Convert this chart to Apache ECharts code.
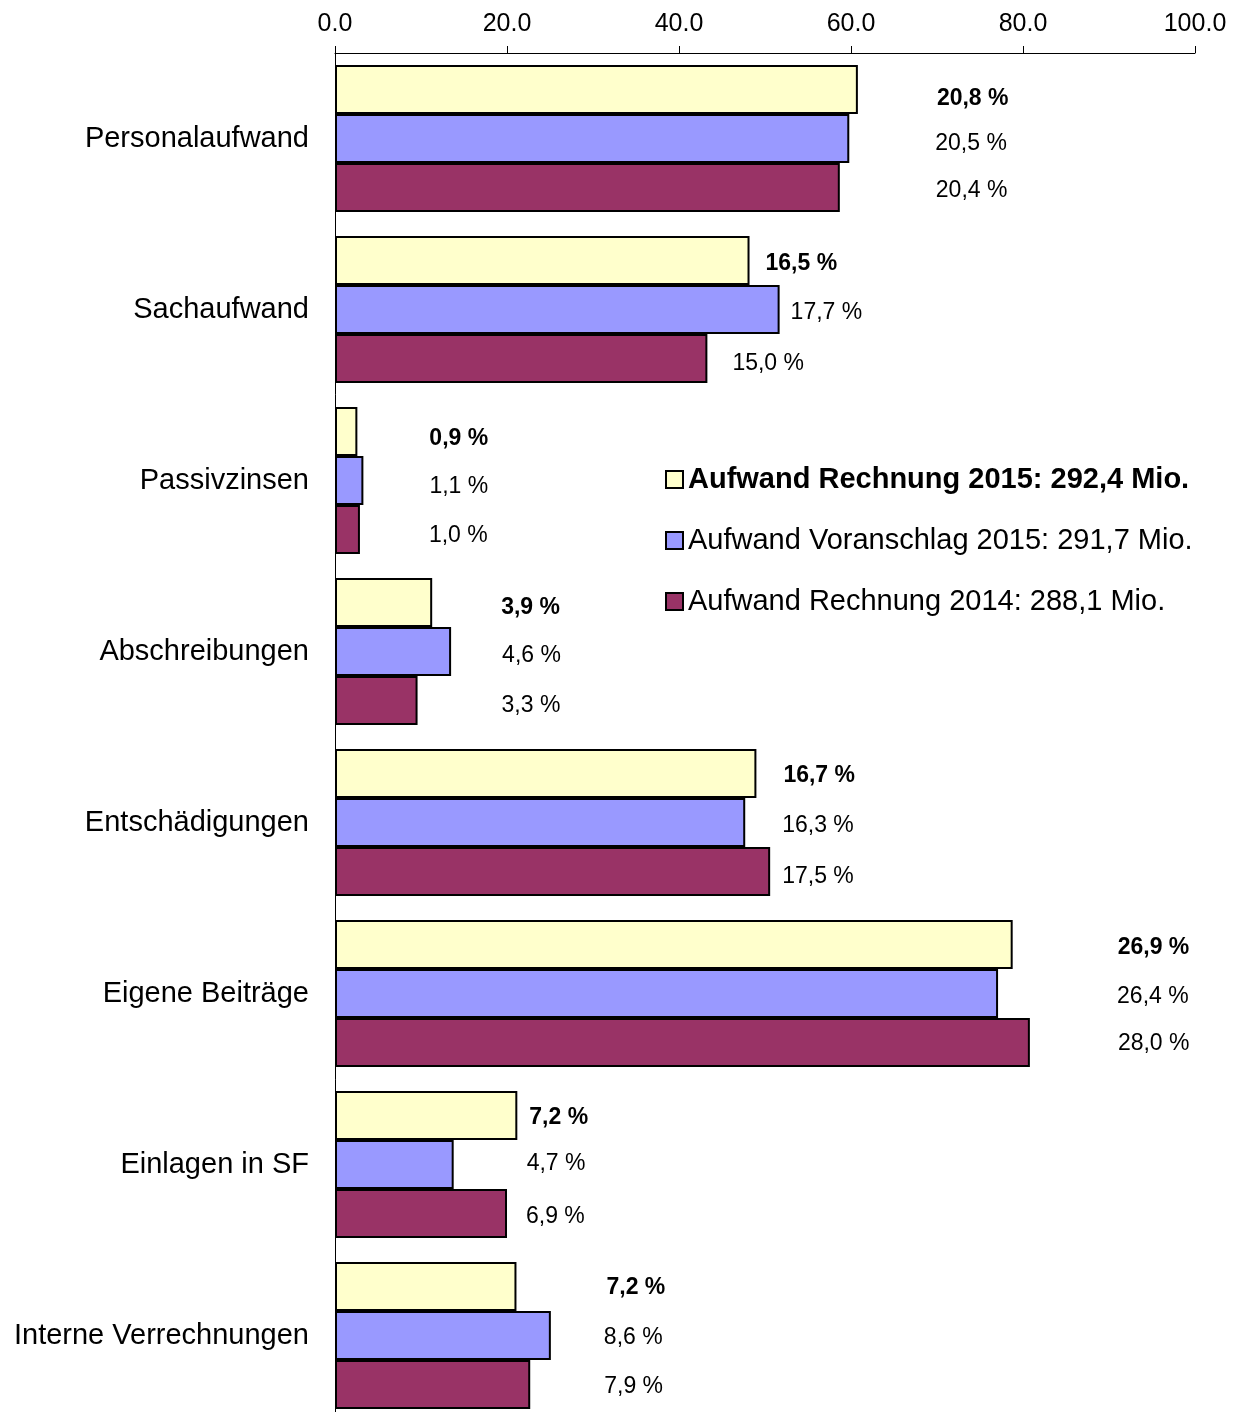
<!DOCTYPE html>
<html>
<head>
<meta charset="utf-8">
<script src="https://cdn.jsdelivr.net/npm/echarts@6/dist/echarts.min.js"></script>
<style>
  html, body { margin: 0; padding: 0; background: #fff; height: 1412px; overflow: hidden; }
  #main { width: 1244px; height: 1430px; }
</style>
</head>
<body>
<div id="main"></div>
<script>
var categories = ['Personalaufwand', 'Sachaufwand', 'Passivzinsen', 'Abschreibungen',
  'Entschädigungen', 'Eigene Beiträge', 'Einlagen in SF', 'Interne Verrechnungen'];

var seriesNames = ['Aufwand Rechnung 2015: 292,4 Mio.',
  'Aufwand Voranschlag 2015: 291,7 Mio.',
  'Aufwand Rechnung 2014: 288,1 Mio.'];

// Mio. CHF
var rechnung2015 = [60.8, 48.2, 2.6, 11.3, 49.0, 78.8, 21.2, 21.1];
var voranschlag2015 = [59.8, 51.7, 3.3, 13.5, 47.7, 77.1, 13.8, 25.1];
var rechnung2014 = [58.7, 43.3, 2.9, 9.6, 50.6, 80.8, 20.0, 22.7];

// share of total, shown as labels
var pctR15 = ['20,8 %', '16,5 %', '0,9 %', '3,9 %', '16,7 %', '26,9 %', '7,2 %', '7,2 %'];
var pctV15 = ['20,5 %', '17,7 %', '1,1 %', '4,6 %', '16,3 %', '26,4 %', '4,7 %', '8,6 %'];
var pctR14 = ['20,4 %', '15,0 %', '1,0 %', '3,3 %', '17,5 %', '28,0 %', '6,9 %', '7,9 %'];

var xTicks = [0, 20, 40, 60, 80, 100];

// label placement (px from bar end), as in the original layout
var offR15 = [[79, 9], [16, 3], [72, 7], [69, 5], [27, 2], [105, 3], [12, 2], [90, 1]];
var offV15 = [[86, 5], [11, 3], [66, 6], [51, 4], [37, 3], [119, 3], [73, -1], [53, 2]];
var offR14 = [[96, 3], [25, 5], [69, 6], [84, 5], [12, 5], [88, 1], [19, 3], [74, 2]];

var FONT = 'Liberation Sans, Arial, sans-serif';

function buildData(values, pcts, offs) {
  return values.map(function (v, i) {
    return {
      value: v,
      pct: pcts[i],
      label: { offset: offs[i] }
    };
  });
}

function makeSeries(name, values, pcts, offs, color, bold) {
  return {
    name: name,
    type: 'bar',
    barGap: '0%',
    barCategoryGap: '14%',
    data: buildData(values, pcts, offs),
    itemStyle: { color: color, borderColor: '#000', borderWidth: 2 },
    label: {
      show: true,
      position: 'right',
      distance: 0,
      fontFamily: FONT,
      fontSize: 23,
      fontWeight: bold ? 'bold' : 'normal',
      color: '#000',
      formatter: function (p) { return p.data.pct; }
    }
  };
}

var chart = echarts.init(document.getElementById('main'));

var option = {
  backgroundColor: '#fff',
  animation: false,
  textStyle: { fontFamily: FONT },
  grid: { left: 335, right: 49, top: 53, height: 1368, containLabel: false },
  legend: {
    orient: 'vertical',
    left: 660,
    top: 460,
    itemWidth: 17,
    itemHeight: 17,
    itemGap: 32,
    icon: 'rect',
    data: seriesNames,
    formatter: function (name) {
      return name === seriesNames[0] ? '{b|' + name + '}' : name;
    },
    textStyle: {
      fontFamily: FONT,
      fontSize: 29,
      color: '#000',
      rich: { b: { fontFamily: FONT, fontSize: 29, fontWeight: 'bold', color: '#000' } }
    }
  },
  xAxis: {
    type: 'value',
    position: 'top',
    min: xTicks[0],
    max: xTicks[xTicks.length - 1],
    interval: 20,
    axisLine: { show: true, lineStyle: { color: '#000', width: 1 } },
    axisTick: { show: true, length: 7, lineStyle: { color: '#000' } },
    splitLine: { show: false },
    axisLabel: {
      fontFamily: FONT,
      fontSize: 25,
      color: '#000',
      margin: 16,
      formatter: function (v) { return v.toFixed(1); }
    }
  },
  yAxis: {
    type: 'category',
    inverse: true,
    data: categories,
    axisLine: { show: true, lineStyle: { color: '#000', width: 1 } },
    axisTick: { show: false },
    axisLabel: { fontFamily: FONT, fontSize: 29, color: '#000', margin: 26, padding: [4, 0, 0, 0] }
  },
  series: [
    makeSeries(seriesNames[0], rechnung2015, pctR15, offR15, '#FFFFCC', true),
    makeSeries(seriesNames[1], voranschlag2015, pctV15, offV15, '#9999FF', false),
    makeSeries(seriesNames[2], rechnung2014, pctR14, offR14, '#993366', false)
  ]
};

chart.setOption(option);
</script>
</body>
</html>
